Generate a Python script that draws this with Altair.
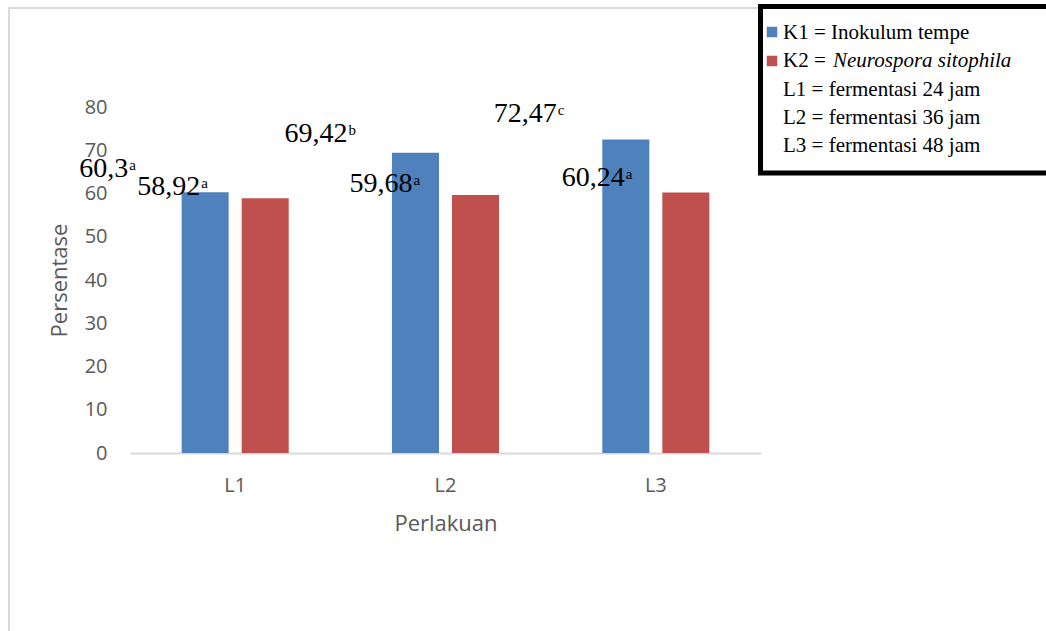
import altair as alt
import pandas as pd

# ---- data ----
categories = ["L1", "L2", "L3"]
series = ["K1", "K2"]
k1_values = [60.3, 69.42, 72.47]
k2_values = [58.92, 59.68, 60.24]
k1_letters = ["a", "b", "c"]
k2_letters = ["a", "a", "a"]
y_ticks = [0, 10, 20, 30, 40, 50, 60, 70, 80]

legend_k1 = "K1 = Inokulum tempe"
legend_k2_prefix = "K2 = "
legend_k2_species = "Neurospora sitophila"
legend_l_rows = ["L1 = fermentasi 24 jam", "L2 = fermentasi 36 jam", "L3 = fermentasi 48 jam"]

colors = ["#4F81BD", "#C0504D"]

rows = []
for i, cat in enumerate(categories):
    for s, vals, lets in (("K1", k1_values, k1_letters), ("K2", k2_values, k2_letters)):
        rows.append({
            "Perlakuan": cat,
            "Seri": s,
            "Nilai": vals[i],
            "Label": str(vals[i]).replace(".", ","),
            "Huruf": lets[i],
        })
df = pd.DataFrame(rows)

W, H = 631, 346
AXIS_GREY = "#595959"
SANS = "Open Sans"
SERIF = "Liberation Serif"

x_enc = alt.X(
    "Perlakuan:N",
    sort=categories,
    scale=alt.Scale(paddingInner=0.491, paddingOuter=0.2455),
    axis=alt.Axis(
        title="Perlakuan", labelAngle=0, ticks=False, tickSize=0,
        domainColor="#D9D9D9", domainWidth=2,
        labelFont=SANS, labelFontSize=20, labelColor=AXIS_GREY, labelPadding=22,
        titleFont=SANS, titleFontSize=22, titleColor=AXIS_GREY,
        titleFontWeight="normal", titlePadding=18,
    ),
)
xo_enc = alt.XOffset(
    "Seri:N", sort=series,
    scale=alt.Scale(paddingInner=0.2167, paddingOuter=0),
)
y_enc = alt.Y(
    "Nilai:Q",
    scale=alt.Scale(domain=[0, 80], nice=False),
    axis=alt.Axis(
        title="Persentase", values=y_ticks, grid=False, domain=False,
        ticks=False, tickSize=0,
        labelFont=SANS, labelFontSize=20, labelColor=AXIS_GREY, labelPadding=23,
        titleFont=SANS, titleFontSize=22, titleColor=AXIS_GREY,
        titleFontWeight="normal", titlePadding=13,
    ),
)

base = alt.Chart(df)
# single-row source for decorations drawn once
deco = alt.Chart(pd.DataFrame({"one": [0]}))

# outer chart frame
frame = deco.mark_rect(fillOpacity=0, stroke="#D9D9D9", strokeWidth=2).encode(
    x=alt.value(-121), x2=alt.value(1000), y=alt.value(-99), y2=alt.value(700)
)

bars = base.mark_bar().encode(
    x=x_enc,
    xOffset=xo_enc,
    y=y_enc,
    color=alt.Color("Seri:N", sort=series,
                    scale=alt.Scale(domain=series, range=colors), legend=None),
)

# value labels with significance letters, nudged next to their bars
label_offsets = {
    ("L1", "K1"): (-77, -15),
    ("L1", "K2"): (-65, -3),
    ("L2", "K1"): (-68, -11),
    ("L2", "K2"): (-63, -3),
    ("L3", "K1"): (-69, -18),
    ("L3", "K2"): (-61, -6),
}
label_layers = []
for (cat, s), (dx, dy) in label_offsets.items():
    sub = base.transform_filter(
        (alt.datum.Perlakuan == cat) & (alt.datum.Seri == s)
    )
    enc = dict(
        x=alt.X("Perlakuan:N", sort=categories),
        xOffset=alt.XOffset("Seri:N", sort=series),
        y=alt.Y("Nilai:Q"),
    )
    label_layers.append(
        sub.mark_text(align="right", baseline="alphabetic", dx=dx, dy=dy,
                      font=SERIF, fontSize=28, color="black")
        .encode(text="Label:N", **enc)
    )
    label_layers.append(
        sub.mark_text(align="left", baseline="alphabetic", dx=dx + 1, dy=dy - 7,
                      font=SERIF, fontSize=15, color="black")
        .encode(text="Huruf:N", **enc)
    )

# legend box in the top-right corner
legend_box = deco.mark_rect(fill="white", stroke="black", strokeWidth=5).encode(
    x=alt.value(630.5), x2=alt.value(960), y=alt.value(-100.5), y2=alt.value(66)
)
legend_sq1 = deco.mark_square(size=110, color=colors[0], opacity=1).encode(
    x=alt.value(642), y=alt.value(-75)
)
legend_sq2 = deco.mark_square(size=110, color=colors[1], opacity=1).encode(
    x=alt.value(642), y=alt.value(-46)
)

def legend_text(txt, x, y, italic=False):
    kw = dict(align="left", baseline="alphabetic", font=SERIF, fontSize=21,
              fontWeight="normal", color="black")
    if italic:
        kw["fontStyle"] = "italic"
    return deco.mark_text(**kw).encode(x=alt.value(x), y=alt.value(y), text=alt.value(txt))

legend_texts = [
    legend_text(legend_k1, 653, -68),
    legend_text(legend_k2_prefix, 653, -40),
    legend_text(legend_k2_species, 703, -40, italic=True),
]
for j, t in enumerate(legend_l_rows):
    legend_texts.append(legend_text(t, 653, -11 + 28 * j))

chart = alt.layer(
    frame, bars, *label_layers, legend_box, legend_sq1, legend_sq2, *legend_texts
).properties(
    width=W, height=H,
    background="white",
    autosize=alt.AutoSizeParams(type="none"),
    padding={"left": 130, "top": 107, "right": 1046 - 130 - W, "bottom": 631 - 107 - H},
).configure_view(stroke=None)

chart.save("out.html", embed_options={"renderer": "svg", "actions": False})
